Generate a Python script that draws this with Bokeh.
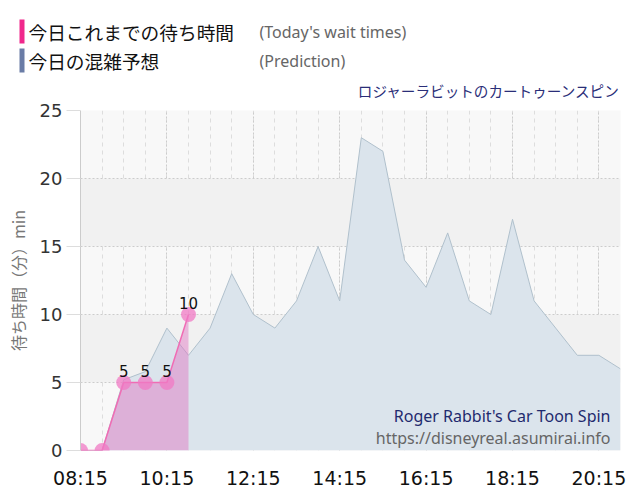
from bokeh.plotting import figure
from bokeh.models import Range1d, FixedTicker, ColumnDataSource, Label
from bokeh.embed import file_html
from bokeh.resources import INLINE
from bokeh.core.properties import value

# ---- data ----
times = ["08:15", "08:45", "09:15", "09:45", "10:15", "10:45", "11:15", "11:45",
         "12:15", "12:45", "13:15", "13:45", "14:15", "14:45", "15:15", "15:45",
         "16:15", "16:45", "17:15", "17:45", "18:15", "18:45", "19:15", "19:45",
         "20:15", "20:45"]
prediction = [0, 0, 5.2, 5.8, 9, 7, 9, 13, 10, 9, 11, 15, 11, 23, 22, 14,
              12, 16, 11, 10, 17, 11, 9, 7, 7, 6]
actual_times = ["08:15", "08:45", "09:15", "09:45", "10:15", "10:45"]
actual = [0, 0, 5, 5, 5, 10]
tick_labels = ["08:15", "10:15", "12:15", "14:15", "16:15", "18:15", "20:15"]
y_ticks = [0, 5, 10, 15, 20, 25]

legend_names = ["今日これまでの待ち時間", "今日の混雑予想"]
legend_names_en = ["(Today's wait times)", "(Prediction)"]
legend_colors = ["#f0288c", "#6a7ca6"]
title_jp = "ロジャーラビットのカートゥーンスピン"
title_en = "Roger Rabbit's Car Toon Spin"
site = "https://disneyreal.asumirai.info"
y_label = "待ち時間（分）min"

# ---- derived ----
idx = {t: i for i, t in enumerate(times)}
xp = [idx[t] for t in times]
xa = [idx[t] for t in actual_times]
major = [idx[t] for t in tick_labels]

JP = "Noto Sans CJK JP"
LAT = "Noto Sans"

# ---------------- header (legend + title) ----------------
hdr_h = 100
h = figure(width=640, height=hdr_h, output_backend="svg", toolbar_location=None,
           x_range=Range1d(0, 640), y_range=Range1d(hdr_h, 0),
           x_axis_location=None, y_axis_location=None,
           min_border_left=0, min_border_right=0, min_border_top=0, min_border_bottom=0)
h.grid.visible = False
h.outline_line_color = None
h.background_fill_color = "white"
h.border_fill_color = "white"

row_mid = [31, 60]
h.quad(left=[19, 19], right=[24, 24], top=[m - 12 for m in row_mid],
       bottom=[m + 12 for m in row_mid], fill_color=legend_colors, line_color=None)
h.text(x=[28, 28], y=row_mid, text=legend_names, text_baseline="middle",
       text_font=value(JP), text_font_size="18.7px", text_color="#111111")
h.text(x=[259, 259], y=row_mid, text=legend_names_en, text_baseline="middle",
       text_font=value(LAT), text_font_size="16px", text_color="#666666")
h.text(x=[620], y=[90], text=[title_jp], text_baseline="middle", text_align="right",
       text_font=value(JP), text_font_size="14.6px", text_color="#2a2e78")

# ---------------- main chart ----------------
p = figure(width=640, height=500 - hdr_h, output_backend="svg", toolbar_location=None,
           x_range=Range1d(0, len(times) - 1), y_range=Range1d(0, 25),
           min_border_left=80, min_border_right=20, min_border_top=110 - hdr_h,
           min_border_bottom=50)
p.outline_line_color = None
p.background_fill_color = "#f8f8f8"
p.border_fill_color = "white"

# axes
p.xaxis.ticker = FixedTicker(ticks=major, minor_ticks=xp)
p.xaxis.major_label_overrides = {i: t for i, t in zip(major, tick_labels)}
p.xaxis.axis_line_color = None
p.xaxis.major_tick_line_color = None
p.xaxis.minor_tick_line_color = None
p.xaxis.major_tick_out = 0
p.xaxis.major_tick_in = 0
p.xaxis.major_label_standoff = 12
p.xaxis.major_label_text_font = "DejaVu Sans"
p.xaxis.major_label_text_font_size = "19px"
p.xaxis.major_label_text_color = "#111111"

p.yaxis.ticker = FixedTicker(ticks=y_ticks)
p.yaxis.axis_line_color = "#cccccc"
p.yaxis.major_tick_line_color = "#dddddd"
p.yaxis.major_tick_out = 14
p.yaxis.major_tick_in = 0
p.yaxis.minor_tick_line_color = None
p.yaxis.major_label_standoff = 4
p.yaxis.major_label_text_font = "DejaVu Sans"
p.yaxis.major_label_text_font_size = "18px"
p.yaxis.major_label_text_color = "#333333"
p.yaxis.axis_label = y_label
p.yaxis.axis_label_text_font = JP
p.yaxis.axis_label_text_font_size = "16px"
p.yaxis.axis_label_text_font_style = "normal"
p.yaxis.axis_label_text_color = "#777777"
p.yaxis.axis_label_standoff = 7

# grids
p.xgrid.grid_line_color = "#cccccc"
p.xgrid.grid_line_dash = "2 2"
p.xgrid.minor_grid_line_color = "#dddddd"
p.xgrid.minor_grid_line_dash = "4 4"
p.ygrid.grid_line_color = "#cccccc"
p.ygrid.grid_line_dash = "2 2"
p.ygrid.band_fill_color = "#f1f1f1"
p.ygrid.band_fill_alpha = 1.0

# prediction area
p.varea(x=xp, y1=[0] * len(xp), y2=prediction, fill_color="#dbe4ec")
p.line(xp, prediction, line_color="#b0c0cc", line_width=1)

# today's actual
p.varea(x=xa, y1=[0] * len(xa), y2=actual, fill_color="#e070c0", fill_alpha=0.45)
p.line(xa, actual, line_color="#f06cb4", line_width=1.5)
p.scatter(xa, actual, size=15, fill_color="#f07ac4", fill_alpha=0.75, line_color=None)

lab = ColumnDataSource(dict(x=[x for x, v in zip(xa, actual) if v > 0],
                            y=[v for v in actual if v > 0],
                            t=[str(v) for v in actual if v > 0]))
p.text(x="x", y="y", text="t", source=lab, y_offset=-12, text_align="center",
       text_baseline="alphabetic", text_font=value("DejaVu Sans"),
       text_font_size="15px", text_color="#111111")

# watermark (inside frame)
p.add_layout(Label(text=title_en, x=530, y=35, x_units="screen", y_units="screen",
                   text_font=LAT, text_font_size="16px", text_color="#1f2a6e",
                   text_align="right", text_baseline="middle"))
p.add_layout(Label(text=site, x=530, y=13, x_units="screen", y_units="screen",
                   text_font=LAT, text_font_size="16px", text_color="#666666",
                   text_align="right", text_baseline="middle"))

open("out.html", "w").write(file_html([h, p], INLINE))
